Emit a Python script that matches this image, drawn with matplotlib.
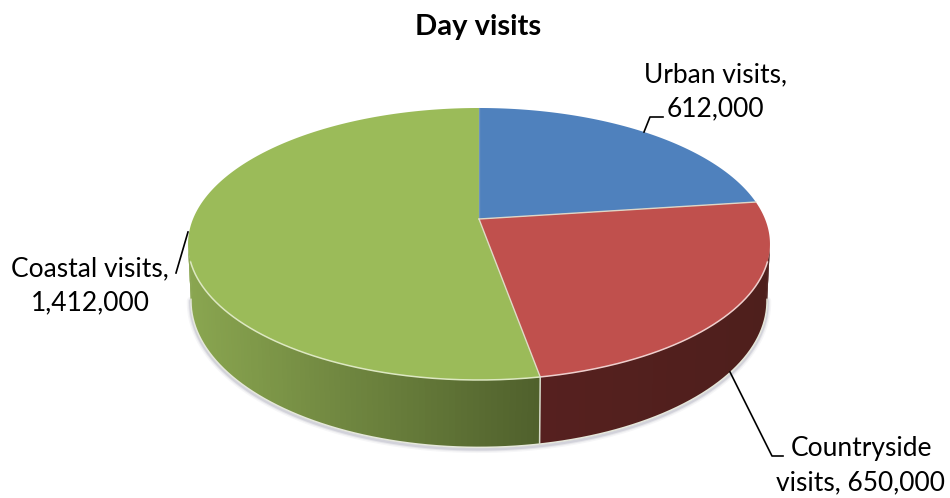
#!/usr/bin/python3

"""
Day visits, pie with a fake 3D look (tilted disc with a rim)
"""

import numpy as np
import matplotlib
matplotlib.use("Agg")
import matplotlib.pyplot as plt
from matplotlib.colors import to_rgb

categories = ["Urban visits", "Countryside visits", "Coastal visits"]
values = [612000, 650000, 1412000]
labels = ["Urban visits,\n612,000", "Countryside\nvisits, 650,000", "Coastal visits,\n1,412,000"]
top_colors = ["#4F81BD", "#C0504D", "#9BBB59"]
rim_colors = ["#C9D6E8", "#EFCFCD", "#DDE8C2"]
side_left = ["#2A4565", "#56201F", "#8AA650"]
side_right = ["#2A4565", "#4E1F1C", "#4F602C"]

label_pos = [(715, 92), (861, 466), (90, 286)]
leaders = [
    ([644, 650, 663], [132, 117, 117]),
    ([730, 772, 783], [372, 456, 456]),
    ([188, 176], [232, 273]),
]

# perspective of the disc, fitted on the picture
CX, CY = 479.0, 219.0
PERSP = -0.1838
SX = 286.0
SY = 91.15
DEPTH = 55.0
VIS0, VIS1 = 100.0, 260.0
RIM0, RIM1 = 108.0, 252.0


def project(theta, bottom=False, radius=1.0):
    """Angle in degrees clockwise from 12 o'clock to pixel position"""
    t = np.radians(theta)
    X = radius*np.sin(t)
    Y = -radius*np.cos(t)
    w = 1 + PERSP*Y
    if bottom:
        return CX + 0.99*SX*X/w, (CY + SY*Y + DEPTH)/w
    return CX + SX*X/w, (CY + SY*Y)/w


fig = plt.figure(figsize=(9.5, 4.98), dpi=100)
ax = fig.add_axes([0, 0, 1, 1])
ax.set_xlim(0, 950)
ax.set_ylim(498, 0)
ax.axis("off")

edges = np.concatenate(([0], np.cumsum(values)))/np.sum(values)*360

# soft shadow under the rim
th = np.linspace(VIS0, VIS1, 200)
bx, by = project(th, bottom=True)
for lw, alpha in [(6, 0.06), (4, 0.10), (2.5, 0.16)]:
    ax.plot(bx, by + 1.5, color="#6A6A85", lw=lw, alpha=alpha, zorder=1, solid_capstyle="round")

# rim, thin strips so the shading can follow x
# each strip overlaps the next one, otherwise the seams show up
for i in range(len(values)):
    a0, a1 = max(edges[i], VIS0), min(edges[i+1], VIS1)
    if a1 <= a0:
        continue
    grid = np.arange(a0, a1, 1.0)
    grid = np.append(grid, a1)
    x_all, _ = project(grid)
    x_min, x_max = x_all.min(), x_all.max()
    c0, c1 = np.array(to_rgb(side_left[i])), np.array(to_rgb(side_right[i]))
    order = list(zip(grid[:-1], grid[1:]))
    for t0, t1 in order:
        t2 = min(t1 + 1.0, a1)
        xt, yt = project(np.array([t0, t2]))
        xb, yb = project(np.array([t2, t0]), bottom=True)
        xc, _ = project(np.array([t0, t1]))
        f = (xc.mean() - x_min)/(x_max - x_min)
        col = c0 + (c1 - c0)*f
        ax.fill(np.r_[xt, xb], np.r_[yt, yb], color=col, lw=0, zorder=2)

# pale line along the bottom of the rim
ax.plot(bx, by, color="#E6E8DC", lw=1.1, zorder=3)

# top of the pie
for i in range(len(values)):
    grid = np.linspace(edges[i], edges[i+1], 200)
    x, y = project(grid)
    ax.fill(np.r_[CX, x], np.r_[CY, y], color=top_colors[i], lw=0, zorder=4)

# pale seams and rim highlight
for i in range(len(values)):
    a0, a1 = max(edges[i], RIM0), min(edges[i+1], RIM1)
    if a1 > a0:
        grid = np.linspace(a0, a1, 150)
        x, y = project(grid)
        ax.plot(x, y, color=rim_colors[i], lw=1.1, zorder=5)
    xe, ye = project(edges[i])
    col = "#E2DCCB" if i != 0 else "#C5CCD8"
    alpha = 0.25 if i == 0 and edges[i] == 0 else 0.95
    ax.plot([CX, xe], [CY, ye], color=col, lw=1.0, alpha=alpha, zorder=5)
    if VIS0 < edges[i] < VIS1:
        xb, yb = project(edges[i], bottom=True)
        ax.plot([xe, xb], [ye, yb], color="#D8DCCB", lw=1.1, zorder=5)

for (lx, ly) in leaders:
    ax.plot(lx, ly, color="black", lw=1.2, zorder=6, solid_joinstyle="round")

font = ["Lato", "DejaVu Sans"]
for lab, (x, y) in zip(labels, label_pos):
    ax.text(x, y, lab, ha="center", va="center", fontsize=19, family=font,
            color="black", linespacing=1.46, zorder=7)
ax.text(478, 27, "Day visits", ha="center", va="center", fontsize=21,
        fontweight="bold", family=font, color="black", zorder=7)

fig.savefig("out.png", dpi=100)
